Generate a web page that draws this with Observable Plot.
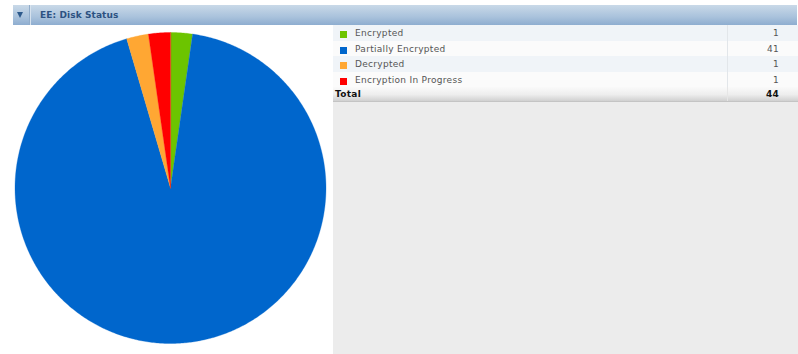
<!DOCTYPE html>
<html>
<head>
<meta charset="utf-8">
<script src="https://cdn.jsdelivr.net/npm/d3@7"></script>
<script src="https://cdn.jsdelivr.net/npm/@observablehq/plot@0.6"></script>
<style>
  html, body { margin: 0; padding: 0; background: #fff; }
  body { width: 798px; height: 354px; position: relative; overflow: hidden; font-family: "DejaVu Sans", Verdana, sans-serif; }
  #header { position: absolute; left: 13px; top: 5px; width: 784px; height: 20px;
    background: linear-gradient(#c9d9e8, #a9c2dc 60%, #8eadd0); }
  #header .tri { position: absolute; left: 4px; top: 7px; width: 0; height: 0;
    border-left: 3.5px solid transparent; border-right: 3.5px solid transparent; border-top: 6px solid #2d5a8c; }
  #header .sep { position: absolute; left: 16px; top: 0; width: 1px; height: 20px; background: #90acca; border-right: 1px solid #d6e2ee; }
  #header .title { position: absolute; left: 27px; top: 5px; font-size: 9px; font-weight: bold; color: #2c5282; letter-spacing: 0.1px; }
  #chart { position: absolute; left: 0; top: 25px; }
  #panel { position: absolute; left: 333px; top: 25px; width: 465px; height: 329px; background: #ececec; }
  .row { position: absolute; left: 0; width: 465px; font-size: 9px; color: #555; letter-spacing: 0.3px; }
  .row .sw { position: absolute; left: 7px; width: 7px; height: 7px; }
  .row .lab { position: absolute; left: 22px; }
  .row .val { position: absolute; right: 19px; text-align: right; }
  .row .div { position: absolute; left: 394px; top: 0; bottom: 0; width: 1px; background: #e2e6ea; }
  .total { font-weight: bold; color: #111; background: linear-gradient(#fafafa, #ededed 55%, #d0d0d0); border-bottom: 1px solid #c4c4c4; }
</style>
</head>
<body>
<div id="header"><div class="tri"></div><div class="sep"></div><div class="title">EE: Disk Status</div></div>
<div id="chart"></div>
<div id="panel"></div>
<script>
const categories = ["Encrypted", "Partially Encrypted", "Decrypted", "Encryption In Progress"];
const values = [1, 41, 1, 1];
const colors = ["#6cc400", "#0066cc", "#ffa733", "#ff0000"];
const totalLabel = "Total";

// pie geometry via d3.pie, drawn with Plot
const radius = 155.5;
const pie = d3.pie().sort(null).value(d => d.value)(categories.map((c, i) => ({category: c, value: values[i]})));
const pts = [];
pie.forEach(s => {
  const n = Math.max(2, Math.ceil((s.endAngle - s.startAngle) / 0.01));
  pts.push({category: s.data.category, x: 0, y: 0});
  for (let k = 0; k <= n; k++) {
    const a = s.startAngle + (s.endAngle - s.startAngle) * k / n;
    pts.push({category: s.data.category, x: radius * Math.sin(a), y: radius * Math.cos(a)});
  }
});

const plot = Plot.plot({
  width: 333,
  height: 329,
  margin: 0,
  x: {domain: [-170, 163], axis: null},
  y: {domain: [-166.5, 162.5], axis: null},
  color: {domain: categories, range: colors},
  marks: [
    Plot.line(pts, {x: "x", y: "y", z: "category", fill: "category", stroke: "category", strokeWidth: 0.3, curve: "linear-closed"})
  ]
});
document.getElementById("chart").appendChild(plot);

// table / legend
const panel = document.getElementById("panel");
const rowTops = [0, 16, 31, 47, 62];
const rowHeights = [16, 15, 16, 15, 14];
const rowBgs = ["#f0f4f8", "#fbfbfb", "#f0f4f8", "#fbfbfb"];
categories.forEach((c, i) => {
  const r = document.createElement("div");
  r.className = "row";
  r.style.top = rowTops[i] + "px";
  r.style.height = rowHeights[i] + "px";
  r.style.background = rowBgs[i];
  const lh = rowHeights[i];
  r.innerHTML = `<div class="sw" style="top:${Math.round(lh/2 - 2)}px;background:${colors[i]}"></div>
    <div class="lab" style="top:${Math.round(lh/2 - 5)}px">${c}</div>
    <div class="div"></div>
    <div class="val" style="top:${Math.round(lh/2 - 5)}px">${values[i]}</div>`;
  panel.appendChild(r);
});
const t = document.createElement("div");
t.className = "row total";
t.style.top = rowTops[4] + "px";
t.style.height = rowHeights[4] + "px";
t.innerHTML = `<div class="lab" style="left:2px;top:2px">${totalLabel}</div><div class="div" style="background:#e6e6e6"></div><div class="val" style="top:2px">${d3.sum(values)}</div>`;
panel.appendChild(t);
</script>
</body>
</html>
